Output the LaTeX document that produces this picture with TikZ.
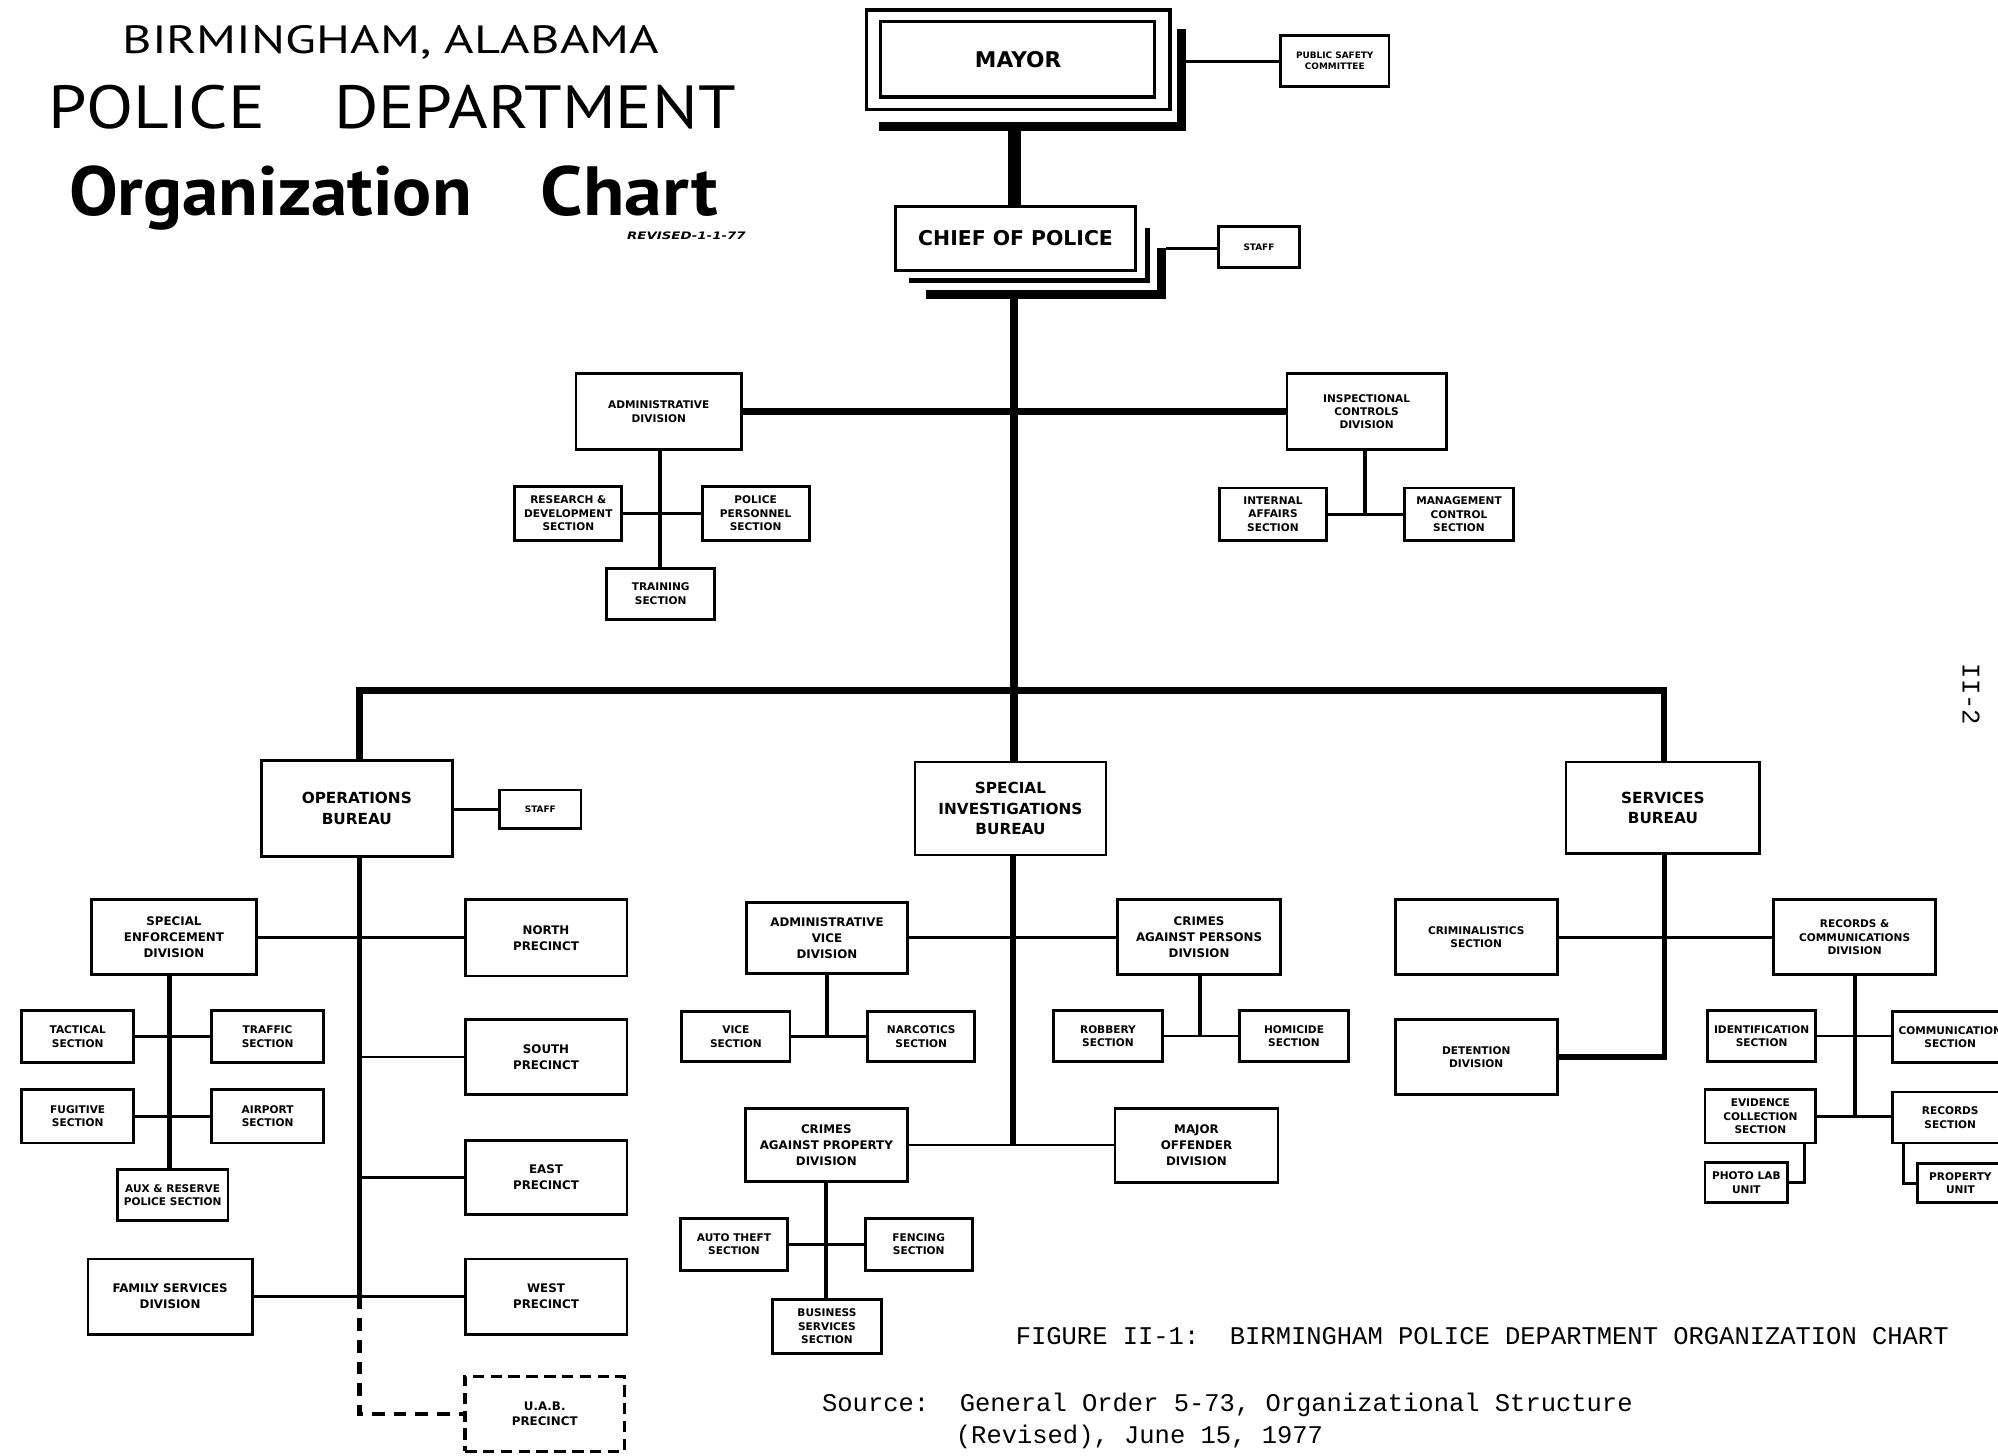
\documentclass[tikz,border=0pt]{standalone}
\usepackage{fontspec}
\usepackage{graphicx}
\newfontfamily\lblfont{DejaVu Sans}
\newfontfamily\ttlfont{PT Sans}
\newfontfamily\capfont{Liberation Mono}
\tikzset{
 box/.style={draw, line width=2.2pt, fill=white, inner sep=0pt, align=center},
 secf/.style={font=\lblfont\bfseries\fontsize{8.3}{10.5}\selectfont},
 divf/.style={font=\lblfont\bfseries\fontsize{9.3}{12.5}\selectfont},
 burf/.style={font=\lblfont\bfseries\fontsize{12}{16}\selectfont},
 tinyf/.style={font=\lblfont\bfseries\fontsize{7}{8.5}\selectfont},
 dashbox/.style={dash pattern=on 9pt off 5pt, line width=2.6pt},
 thickbar/.style={line width=6pt},
 bus/.style={line width=5pt},
 sub/.style={line width=4pt},
 dv/.style={line width=3.2pt},
 sec/.style={line width=2.2pt},
 dashconn/.style={line width=3.5pt, dash pattern=on 10pt off 7pt},
 capt/.style={font=\capfont\fontsize{20}{24}\selectfont, inner sep=0pt},
}
\newcommand\bx[7][]{\node[box,#1,minimum width={#4-#2},minimum height={#5-#3}] (#6) at ({(#2+#4)/2},{(#3+#5)/2}) {#7};}
\begin{document}
\begin{tikzpicture}[x=1pt,y=-1pt]
\path[use as bounding box, fill=white] (0,0) rectangle (1568,1142);
\clip (0,0) rectangle (1568,1142);

% ---------- title ----------
\node[anchor=base west, inner sep=0pt] (t1) at (96,42) {\resizebox{421pt}{22pt}{\ttlfont BIRMINGHAM, ALABAMA}};
\node[anchor=base west, inner sep=0pt] (t2a) at (38,101) {\resizebox{170pt}{34pt}{\ttlfont POLICE}};
\node[anchor=base west, inner sep=0pt] (t2b) at (262,101) {\resizebox{315pt}{34pt}{\ttlfont DEPARTMENT}};
\node[anchor=base west, inner sep=0pt] (t3a) at (54,169) {\resizebox{316pt}{39pt}{\ttlfont\bfseries Organization}};
\node[anchor=base west, inner sep=0pt] (t3b) at (424,169) {\resizebox{139pt}{39pt}{\ttlfont\bfseries Chart}};
\node[anchor=base west, inner sep=0pt] (rev) at (492,188) {\resizebox{93pt}{6pt}{\lblfont\bfseries\itshape REVISED-1-1-77}};

% ---------- mayor ----------
\node[box, line width=2.8pt, minimum width=238pt, minimum height=78pt,
      font=\lblfont\bfseries\fontsize{17}{20}\selectfont] (mayor) at (799,47) {MAYOR};
\draw[line width=2.8pt] (691,17) rectangle (906,76);
\draw[line width=7pt] (690,99) -- (927.5,99) -- (927.5,23);
\bx[tinyf]{1005}{28}{1090}{68}{psc}{PUBLIC SAFETY\\COMMITTEE}
\coordinate (msh) at (931,48);
\draw[sec] (msh) -- (psc.west);

% ---------- chief ----------
\node[box, minimum width=188pt, minimum height=50pt,
      font=\lblfont\bfseries\fontsize{16}{19}\selectfont] (chief) at (797,187) {CHIEF OF POLICE};
\draw[line width=4pt] (713,220) -- (900.5,220) -- (900.5,179);
\draw[line width=7pt] (727,231) -- (911.5,231) -- (911.5,195);
\bx[tinyf]{956}{178}{1020}{210}{cstaff}{STAFF}
\coordinate (csh) at (915,195);
\draw[sec] (csh) -- (cstaff.west |- csh);
\coordinate (msb) at (796,99);
\draw[line width=10pt] (msb) -- (msb |- chief.north);

% ---------- staff divisions ----------
\bx[secf]{452}{293}{582}{353}{adm}{ADMINISTRATIVE\\DIVISION}
\bx[secf]{404}{382}{488}{424}{rd}{RESEARCH \&\\DEVELOPMENT\\SECTION}
\bx[secf]{551}{382}{635}{424}{pp}{POLICE\\PERSONNEL\\SECTION}
\bx[secf]{476}{446}{561}{486}{train}{TRAINING\\SECTION}
\bx[secf]{1010}{293}{1135}{353}{insp}{INSPECTIONAL\\CONTROLS\\DIVISION}
\bx[secf]{957}{383}{1041}{424}{ia}{INTERNAL\\AFFAIRS\\SECTION}
\bx[secf]{1102}{383}{1188}{424}{mc}{MANAGEMENT\\CONTROL\\SECTION}

% ---------- bureaus ----------
\bx[burf]{205}{597}{355}{672}{ops}{OPERATIONS\\BUREAU}
\bx[tinyf]{392}{620}{456}{650}{ostaff}{STAFF}
\bx[burf]{718}{598}{868}{671}{sib}{SPECIAL\\INVESTIGATIONS\\BUREAU}
\bx[burf]{1229}{598}{1381}{670}{svc}{SERVICES\\BUREAU}

\coordinate (csb) at (796,231);
\draw[thickbar] (csb) -- (csb |- sib.north);
\draw[bus] (adm.east) -- (insp.west);
\coordinate (busL) at (282,542);
\coordinate (busR) at (1306,542);
\draw[bus] (busL |- ops.north) -- (busL) -- (busR) -- (busR |- svc.north);

\coordinate (admx) at (518,0);
\draw[dv] (admx |- adm.south) -- (admx |- train.north);
\draw[sec] (rd.east) -- (rd.east -| pp.west);
\coordinate (inspx) at (1071,0);
\draw[dv] (inspx |- insp.south) -- (inspx |- ia.east);
\draw[sec] (ia.east) -- (ia.east -| mc.west);

% ---------- operations ----------
\bx[divf]{72}{706}{201}{765}{sed}{SPECIAL\\ENFORCEMENT\\DIVISION}
\bx[secf]{17}{793}{105}{834}{tac}{TACTICAL\\SECTION}
\bx[secf]{166}{793}{254}{834}{tra}{TRAFFIC\\SECTION}
\bx[secf]{17}{855}{105}{897}{fug}{FUGITIVE\\SECTION}
\bx[secf]{166}{855}{254}{897}{air}{AIRPORT\\SECTION}
\bx[secf]{92}{918}{179}{958}{aux}{AUX \& RESERVE\\POLICE SECTION}
\bx[divf]{365}{706}{492}{766}{north}{NORTH\\PRECINCT}
\bx[divf]{365}{800}{492}{859}{south}{SOUTH\\PRECINCT}
\bx[divf]{365}{895}{492}{953}{east}{EAST\\PRECINCT}
\bx[divf]{365}{988}{492}{1047}{west}{WEST\\PRECINCT}
\bx[divf]{69}{988}{198}{1047}{fam}{FAMILY SERVICES\\DIVISION}
\bx[divf,dashbox]{365}{1080}{490}{1139}{uab}{U.A.B.\\PRECINCT}

\draw[sec] (ops.east |- ostaff.west) -- (ostaff.west);
\coordinate (opsx) at (282,0);
\draw[sub] (opsx |- ops.south) -- (opsx |- west.west);
\draw[dashconn] (opsx |- west.west) -- (opsx |- uab.west) -- (uab.west);
\draw[sec] (sed.east) -- (sed.east -| north.west);
\draw[sec] (opsx |- south.west) -- (south.west);
\draw[sec] (opsx |- east.west) -- (east.west);
\draw[sec] (fam.east) -- (fam.east -| west.west);
\coordinate (sex) at (133,0);
\draw[dv] (sex |- sed.south) -- (sex |- aux.north);
\draw[sec] (tac.east) -- (tac.east -| tra.west);
\draw[sec] (fug.east) -- (fug.east -| air.west);

% ---------- special investigations ----------
\bx[divf]{586}{708}{712}{764}{av}{ADMINISTRATIVE\\VICE\\DIVISION}
\bx[secf]{535}{794}{620}{833}{vice}{VICE\\SECTION}
\bx[secf]{681}{794}{765}{833}{narc}{NARCOTICS\\SECTION}
\bx[divf]{877}{706}{1005}{765}{caper}{CRIMES\\AGAINST PERSONS\\DIVISION}
\bx[secf]{827}{793}{912}{833}{rob}{ROBBERY\\SECTION}
\bx[secf]{973}{793}{1058}{833}{hom}{HOMICIDE\\SECTION}
\bx[divf]{585}{870}{712}{927}{capr}{CRIMES\\AGAINST PROPERTY\\DIVISION}
\bx[divf]{875}{870}{1003}{928}{major}{MAJOR\\OFFENDER\\DIVISION}
\bx[secf]{534}{956}{618}{997}{auto}{AUTO THEFT\\SECTION}
\bx[secf]{679}{956}{763}{997}{fence}{FENCING\\SECTION}
\bx[secf]{606}{1020}{692}{1062}{busi}{BUSINESS\\SERVICES\\SECTION}

\coordinate (sibx) at (795,0);
\draw[sub] (sibx |- sib.south) -- (sibx |- capr.east);
\draw[sec] (av.east) -- (av.east -| caper.west);
\draw[sec] (capr.east) -- (capr.east -| major.west);
\draw[dv] (av.south) -- (av.south |- vice.east);
\draw[sec] (vice.east) -- (vice.east -| narc.west);
\coordinate (caperx) at (942,0);
\draw[dv] (caperx |- caper.south) -- (caperx |- rob.east);
\draw[sec] (rob.east) -- (rob.east -| hom.west);
\draw[dv] (capr.south) -- (capr.south |- busi.north);
\draw[sec] (auto.east) -- (auto.east -| fence.west);

% ---------- services ----------
\bx[secf]{1095}{706}{1222}{765}{crim}{CRIMINALISTICS\\SECTION}
\bx[secf]{1095}{800}{1222}{859}{det}{DETENTION\\DIVISION}
\bx[secf]{1392}{706}{1519}{765}{rc}{RECORDS \&\\COMMUNICATIONS\\DIVISION}
\bx[secf]{1340}{793}{1425}{833}{ident}{IDENTIFICATION\\SECTION}
\bx[secf]{1485}{794}{1576}{834}{comm}{COMMUNICATION\\SECTION}
\bx[secf]{1338}{855}{1425}{897}{evid}{EVIDENCE\\COLLECTION\\SECTION}
\bx[secf]{1485}{857}{1576}{897}{recs}{RECORDS\\SECTION}
\bx[secf]{1338}{912}{1403}{944}{photo}{PHOTO LAB\\UNIT}
\bx[secf]{1505}{913}{1572}{944}{prop}{PROPERTY\\UNIT}

\coordinate (svcx) at (1306,0);
\draw[sub] (svcx |- svc.south) |- (det.east);
\draw[sec] (crim.east) -- (crim.east -| rc.west);
\coordinate (rcx) at (1456,0);
\draw[dv] (rcx |- rc.south) -- (rcx |- evid.east);
\draw[sec] (ident.east) -- (ident.east -| comm.west);
\draw[sec] (evid.east) -- (evid.east -| recs.west);
\coordinate (evx) at (1416,0);
\draw[sec] (evx |- evid.south) |- (photo.east);
\coordinate (rsx) at (1494,0);
\draw[sec] (rsx |- recs.south) |- (prop.west);

% ---------- captions ----------
\node[capt, anchor=base west] (fig) at (797,1055) {FIGURE II-1:\ \ BIRMINGHAM POLICE DEPARTMENT ORGANIZATION CHART};
\node[capt, anchor=base west] (src) at (645,1108) {Source:\ \ General Order 5-73, Organizational Structure};
\node[capt, anchor=base west] (src2) at (750,1133) {(Revised), June 15, 1977};
\node[capt, rotate=-90] (pg) at (1547,545) {II-2};
\end{tikzpicture}
\end{document}
